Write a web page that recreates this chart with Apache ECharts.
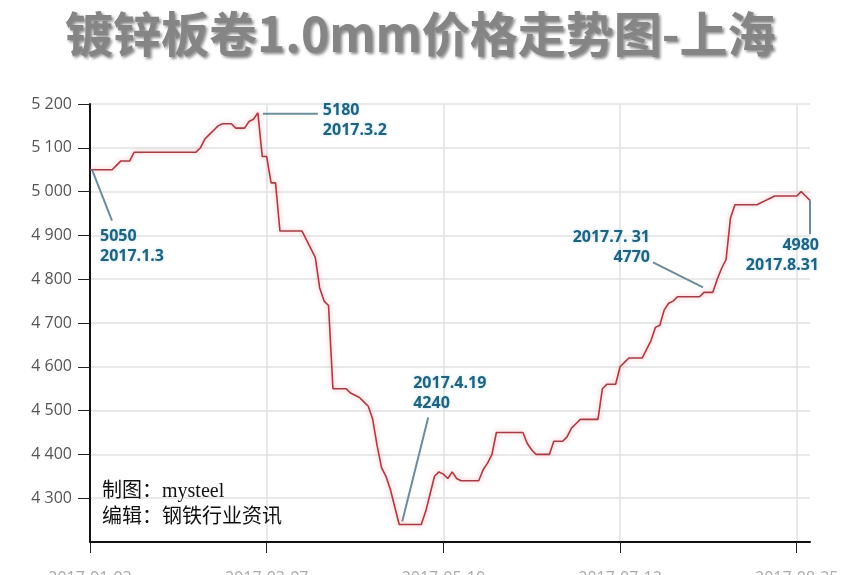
<!DOCTYPE html>
<html><head><meta charset="utf-8">
<script src="https://cdn.jsdelivr.net/npm/echarts@6/dist/echarts.min.js"></script>
<style>html,body{margin:0;padding:0;background:#fff}#c{width:857px;height:575px}</style>
</head><body><div id="c"></div>
<script>
// ---- data ----
const titleText = '镀锌板卷1.0mm价格走势图-上海';
// daily price (yuan/t), trading days from 2017-01-03 to 2017-08-31
const prices = [
  5050,5050,5050,5050,5050,5050,5060,5070,5070,5070,
  5090,5090,5090,5090,5090,5090,5090,5090,5090,5090,
  5090,5090,5090,5090,5090,5100,5120,5130,5140,5150,
  5155,5155,5155,5145,5145,5145,5160,5165,5180,5080,
  5080,5020,5020,4910,4910,4910,4910,4910,4910,4890,
  4870,4850,4780,4750,4740,4550,4550,4550,4550,4540,
  4535,4530,4520,4510,4480,4420,4370,4350,4320,4280,
  4240,4240,4240,4240,4240,4240,4270,4310,4350,4360,
  4355,4345,4360,4345,4340,4340,4340,4340,4340,4365,
  4380,4400,4450,4450,4450,4450,4450,4450,4450,4425,
  4410,4400,4400,4400,4400,4430,4430,4430,4440,4460,
  4470,4480,4480,4480,4480,4480,4550,4560,4560,4560,
  4600,4610,4620,4620,4620,4620,4640,4660,4690,4695,
  4730,4745,4750,4760,4760,4760,4760,4760,4760,4770,
  4770,4770,4800,4825,4845,4940,4970,4970,4970,4970,
  4970,4970,4975,4980,4985,4990,4990,4990,4990,4990,
  4990,5000,4990,4980
];
const tickLabels = ['2017-01-03','2017-03-07','2017-05-10','2017-07-12','2017-08-25'];
const tickEvery = 40;
const yMin = 4200, yMax = 5200, yStep = 100;
const yTickValues = [4300,4400,4500,4600,4700,4800,4900,5000,5100,5200];
const annIdx  = [0, 38, 70, 139, 163];
const annText = ['5050\n2017.1.3', '5180\n2017.3.2', '2017.4.19\n4240', '2017.7. 31\n4770', '4980\n2017.8.31'];
const footerLines = ['制图：mysteel', '编辑：钢铁行业资讯'];

// ---- layout / styles (pixel offsets relative to the annotated point) ----
const annLayout = [
  {l0:[2,0],  l1:[22,51],   t:[10,57],  align:'left'},
  {l0:[5,1],  l1:[60,1],    t:[65,-12], align:'left'},
  {l0:[3,-3], l1:[29,-107], t:[14,-151],align:'left'},
  {l0:[-51,-30], l1:[-1,-5], t:[-54,-65], align:'right'},
  {l0:[0,0],  l1:[0,34],    t:[9,35],   align:'right'}
];

const categories = prices.map((_, i) => String(i));
const chart = echarts.init(document.getElementById('c'));
const fmtThousands = v => String(v).replace(/\B(?=(\d{3})+(?!\d))/g, ' ');

chart.setOption({
  animation: false,
  backgroundColor: '#fff',
  title: {
    text: titleText, left: 60, top: 5,
    textStyle: {
      fontFamily: 'Noto Sans CJK SC', fontWeight: 'bold', fontSize: 48, color: '#858585',
      textShadowColor: 'rgba(0,0,0,0.45)', textShadowBlur: 3, textShadowOffsetX: 2, textShadowOffsetY: 2
    }
  },
  grid: { left: 90, right: 47, top: 104, bottom: 33, containLabel: false, outerBoundsMode: 'none' },
  xAxis: {
    type: 'category', data: categories, boundaryGap: false,
    axisLine: { lineStyle: { color: '#111', width: 2 } },
    axisTick: { interval: tickEvery - 1, length: 11, lineStyle: { color: '#222', width: 1 } },
    axisLabel: {
      interval: tickEvery - 1, margin: 28, color: '#aaa', fontSize: 16, fontFamily: 'Open Sans',
      formatter: (v, i) => tickLabels[Math.round(i / tickEvery)] || ''
    },
    splitLine: { show: true, interval: tickEvery - 1, lineStyle: { color: '#e2e2e2', width: 1.5 } }
  },
  yAxis: {
    type: 'value', min: yMin, max: yMax, interval: yStep,
    axisLine: { show: true, lineStyle: { color: '#111', width: 2 } },
    axisTick: { show: true, length: 12, customValues: yTickValues, lineStyle: { color: '#222', width: 1 } },
    axisLabel: { customValues: yTickValues, margin: 18, color: '#555', fontSize: 16, fontFamily: 'Open Sans', formatter: fmtThousands },
    splitLine: { lineStyle: { color: '#e2e2e2', width: 1.5 } }
  },
  series: [{
    type: 'line', data: prices, symbol: 'none', smooth: false,
    lineStyle: { color: '#a83c44', width: 1.6, shadowColor: 'rgba(245,120,130,0.7)', shadowBlur: 5 },
    z: 3
  }]
});

// annotations: positioned from data coordinates via the chart's scales
const g = [];
annIdx.forEach((idx, k) => {
  const p = chart.convertToPixel({ xAxisIndex: 0, yAxisIndex: 0 }, [idx, prices[idx]]);
  const L = annLayout[k];
  g.push({
    type: 'line', z: 10,
    shape: { x1: p[0] + L.l0[0], y1: p[1] + L.l0[1], x2: p[0] + L.l1[0], y2: p[1] + L.l1[1] },
    style: { stroke: '#6b8c9c', lineWidth: 2 }
  });
  g.push({
    type: 'text', z: 11,
    style: {
      text: annText[k], x: p[0] + L.t[0], y: p[1] + L.t[1],
      textAlign: L.align, textVerticalAlign: 'top',
      font: 'bold 16px "Open Sans", sans-serif', lineHeight: 20, fill: '#22627e',
      textShadowColor: 'rgba(140,210,235,0.7)', textShadowBlur: 3
    }
  });
});
g.push({
  type: 'text', z: 11,
  style: {
    text: footerLines.join('\n'), x: 102, y: 479, textVerticalAlign: 'top',
    font: '20px "Liberation Serif", "Noto Sans CJK SC", serif', lineHeight: 26, fill: '#111'
  }
});
chart.setOption({ graphic: g });
</script>
</body></html>
